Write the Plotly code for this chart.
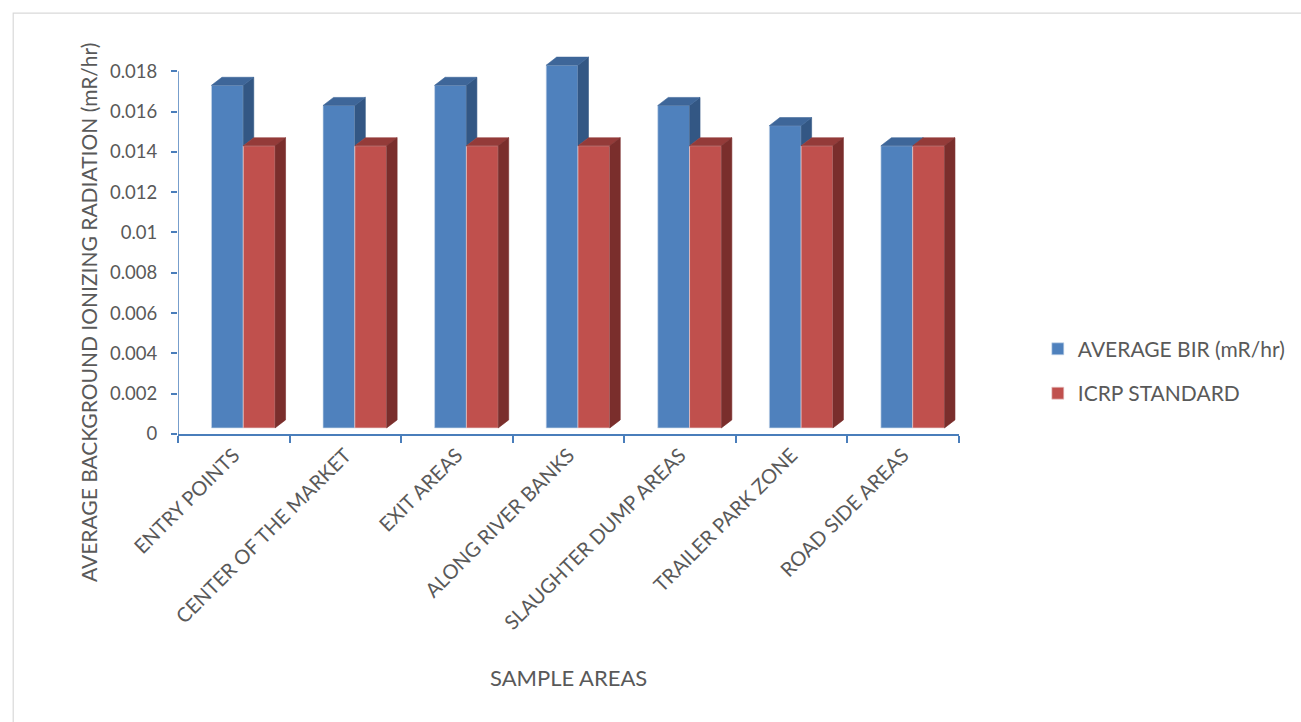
import plotly.graph_objects as go

# ---- data -------------------------------------------------------------
categories = [
    "ENTRY POINTS",
    "CENTER OF THE MARKET",
    "EXIT AREAS",
    "ALONG RIVER BANKS",
    "SLAUGHTER DUMP AREAS",
    "TRAILER PARK ZONE",
    "ROAD SIDE AREAS",
]
avg_bir = [0.017, 0.016, 0.017, 0.018, 0.016, 0.015, 0.014]
icrp_standard = [0.014, 0.014, 0.014, 0.014, 0.014, 0.014, 0.014]

y_tick_values = [0, 0.002, 0.004, 0.006, 0.008, 0.01, 0.012, 0.014, 0.016, 0.018]
y_tick_labels = ["0", "0.002", "0.004", "0.006", "0.008", "0.01",
                 "0.012", "0.014", "0.016", "0.018"]

# ---- pseudo-3D column geometry (axis units) ---------------------------
BAR_W = 0.285        # width of one front face, in category units
OFFSET_1 = 0.30      # left edge of first series inside its category slot
LIFT = 0.0003        # front faces sit slightly above the floor line
DEPTH_X = 0.094      # receding depth, horizontal component
DEPTH_Y = 0.0004     # receding depth, vertical component

BLUE_FRONT, BLUE_TOP, BLUE_SIDE = "#4F81BD", "#3E6699", "#335784"
RED_FRONT, RED_TOP, RED_SIDE = "#C0504D", "#943B39", "#7A2E2C"
AXIS_BLUE = "#4A7EBB"
TEXT_GREY = "#595959"
FONT = "Lato"

idx = list(range(len(categories)))
x0 = [i + OFFSET_1 for i in idx]          # blue front left
x1 = [i + OFFSET_1 + BAR_W for i in idx]  # blue/red boundary
x2 = [i + OFFSET_1 + 2 * BAR_W for i in idx]  # red front right
tb = [v + LIFT for v in avg_bir]
tr = [v + LIFT for v in icrp_standard]


def polys(list_of_pts):
    xs, ys = [], []
    for pts in list_of_pts:
        for px, py in pts:
            xs.append(px)
            ys.append(py)
        xs.append(pts[0][0])
        ys.append(pts[0][1])
        xs.append(None)
        ys.append(None)
    return xs, ys


def face(xs, ys, color):
    return go.Scatter(
        x=xs, y=ys, mode="lines", fill="toself", fillcolor=color,
        line=dict(color=color, width=0.6), hoverinfo="skip", showlegend=False,
    )


fig = go.Figure()

fig.add_trace(go.Bar(
    x=idx, y=avg_bir, base=LIFT, offset=OFFSET_1, width=BAR_W,
    name="AVERAGE BIR (mR/hr)", legendgroup="a",
    marker=dict(color=BLUE_FRONT, line=dict(color="rgba(200,215,235,0.8)", width=0.8)),
))
fig.add_trace(go.Bar(
    x=idx, y=icrp_standard, base=LIFT, offset=OFFSET_1 + BAR_W, width=BAR_W,
    name="ICRP STANDARD", legendgroup="b",
    marker=dict(color=RED_FRONT, line=dict(color="rgba(235,205,205,0.8)", width=0.8)),
))

# blue right side: only the part showing above the red column
blue_side = []
for i in idx:
    hi = max(tb[i], tr[i])
    blue_side.append([(x1[i], tr[i]), (x1[i], hi),
                      (x1[i] + DEPTH_X, hi + DEPTH_Y),
                      (x1[i] + DEPTH_X, tr[i] + DEPTH_Y)])
fig.add_trace(face(*polys(blue_side), BLUE_SIDE))

blue_top = [[(x0[i], tb[i]), (x1[i], tb[i]),
             (x1[i] + DEPTH_X, tb[i] + DEPTH_Y), (x0[i] + DEPTH_X, tb[i] + DEPTH_Y)]
            for i in idx]
fig.add_trace(face(*polys(blue_top), BLUE_TOP))

red_top = [[(x1[i], tr[i]), (x2[i], tr[i]),
            (x2[i] + DEPTH_X, tr[i] + DEPTH_Y), (x1[i] + DEPTH_X, tr[i] + DEPTH_Y)]
           for i in idx]
fig.add_trace(face(*polys(red_top), RED_TOP))

red_side = [[(x2[i], LIFT), (x2[i], tr[i]),
             (x2[i] + DEPTH_X, tr[i] + DEPTH_Y), (x2[i] + DEPTH_X, LIFT + DEPTH_Y)]
            for i in idx]
fig.add_trace(face(*polys(red_side), RED_SIDE))

fig.update_layout(
    width=1301, height=722,
    margin=dict(l=178, r=341, t=41, b=288),
    paper_bgcolor="white", plot_bgcolor="white",
    barmode="overlay",
    font=dict(family=FONT, size=21, color=TEXT_GREY),
    showlegend=True,
    legend=dict(
        x=1.0995, y=0.268, xanchor="left", yanchor="top",
        font=dict(family=FONT, size=21, color=TEXT_GREY),
        tracegroupgap=14, bgcolor="rgba(0,0,0,0)",
        itemwidth=30,
    ),
    xaxis=dict(
        range=[0, len(categories)],
        tickmode="array", tickvals=[i + 0.5 for i in idx], ticktext=categories,
        tickangle=-45, ticks="", showgrid=False, zeroline=False,
        showline=True, linecolor=AXIS_BLUE, linewidth=1.5,
        tickfont=dict(family=FONT, size=20, color=TEXT_GREY),
        minor=dict(tickmode="array", tickvals=list(range(len(categories) + 1)),
                   ticks="outside", ticklen=7, tickcolor=AXIS_BLUE, tickwidth=1.5,
                   showgrid=False),
        fixedrange=True,
    ),
    yaxis=dict(
        range=[0, 0.0195],
        tickmode="array", tickvals=y_tick_values, ticktext=y_tick_labels,
        ticks="outside", ticklen=6, tickcolor=AXIS_BLUE, tickwidth=1.5,
        showgrid=False, zeroline=False, showline=False,
        ticklabelstandoff=10,
        tickfont=dict(family=FONT, size=18.5, color=TEXT_GREY),
        fixedrange=True,
    ),
    shapes=[
        # value axis line up to the top tick
        dict(type="line", xref="x", yref="y", x0=0, x1=0, y0=0, y1=y_tick_values[-1],
             line=dict(color=AXIS_BLUE, width=1.5), layer="above"),
        # chart frame
        dict(type="rect", xref="paper", yref="paper",
             x0=-0.211, x1=2, y0=1.071, y1=-2,
             line=dict(color="#D9D9D9", width=1.2), layer="below"),
    ],
    annotations=[
        dict(text="AVERAGE BACKGROUND IONIZING RADIATION (mR/hr)",
             xref="paper", yref="paper", x=(88 - 178) / 782, y=(434 - 312) / 393,
             textangle=-90, showarrow=False, xanchor="center", yanchor="middle",
             font=dict(family=FONT, size=21, color=TEXT_GREY)),
        dict(text="SAMPLE AREAS", xref="paper", yref="paper",
             x=0.5, y=(434 - 677) / 393, showarrow=False,
             xanchor="center", yanchor="middle",
             font=dict(family=FONT, size=22, color=TEXT_GREY)),
    ],
)

fig.write_html("out.html")
